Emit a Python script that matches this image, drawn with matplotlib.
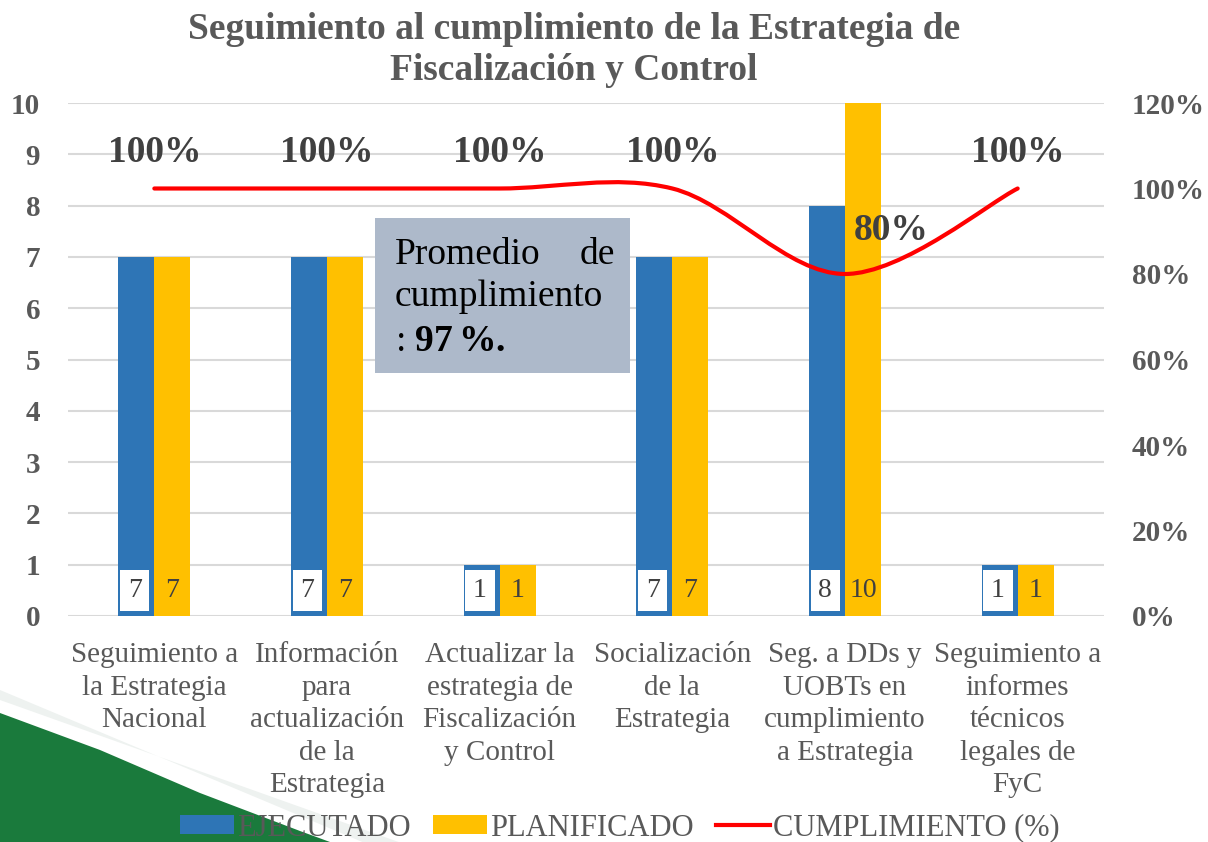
import numpy as np
import matplotlib
matplotlib.use("Agg")
import matplotlib.pyplot as plt
from matplotlib.path import Path
from matplotlib.patches import PathPatch, Patch, Polygon
from matplotlib.lines import Line2D

plt.rcParams["font.family"] = ["Liberation Serif", "DejaVu Serif"]
plt.rcParams["mathtext.fontset"] = "custom"
plt.rcParams["mathtext.rm"] = "Liberation Serif"
plt.rcParams["mathtext.bf"] = "Liberation Serif:bold"

# ── 数据 ──
categories = [
    "Seguimiento a\nla Estrategia\nNacional",
    "Información\npara\nactualización\nde la\nEstrategia",
    "Actualizar la\nestrategia de\nFiscalización\ny Control",
    "Socialización\nde la\nEstrategia",
    "Seg. a DDs y\nUOBTs en\ncumplimiento\na Estrategia",
    "Seguimiento a\ninformes\ntécnicos\nlegales de\nFyC",
]
ejecutado = [7, 7, 1, 7, 8, 1]
planificado = [7, 7, 1, 7, 10, 1]
cumplimiento = [100, 100, 100, 100, 80, 100]

TITLE = "Seguimiento al cumplimiento de la Estrategia de\nFiscalización y Control"
BLUE = "#2E75B6"
YELLOW = "#FFC000"
RED = "#FF0000"
GRAY = "#595959"
DARK = "#404040"
GRID = "#D9D9D9"

fig = plt.figure(figsize=(12.08, 8.42), dpi=100)

# 左下角绿色装饰
fig.patches.append(Polygon([[0, 1 - 690 / 842], [0.30, 0], [0.33, 0], [0, 1 - 700 / 842]],
                           closed=True, transform=fig.transFigure,
                           facecolor="#EEF2F0", edgecolor="none", zorder=0))
fig.patches.append(Polygon([[0, 1 - 713 / 842], [100 / 1208, 1 - 750 / 842],
                            [200 / 1208, 1 - 793 / 842], [300 / 1208, 1 - 831 / 842],
                            [330 / 1208, 0], [0, 0]],
                           closed=True, transform=fig.transFigure,
                           facecolor="#1A7A3C", edgecolor="none", zorder=0))

ax = fig.add_axes([68 / 1208, 1 - 616 / 842, 1036 / 1208, 513 / 842])
ax.patch.set_alpha(0)
ax2 = ax.twinx()

x = np.arange(len(categories))
w = 0.208
ax.bar(x - w / 2, ejecutado, w, color=BLUE, zorder=2)
ax.bar(x + w / 2, planificado, w, color=YELLOW, zorder=2)

for xi, e, p in zip(x, ejecutado, planificado):
    ax.text(xi - w / 2 - 0.01, 0.5, str(e), ha="center", va="center", fontsize=20, color=DARK,
            zorder=3, bbox=dict(boxstyle="square,pad=0.28", facecolor="white", edgecolor="none"))
    ax.text(xi + w / 2, 0.5, str(p), ha="center", va="center", fontsize=20, color=DARK, zorder=3)

ax.set_xlim(-0.5, len(categories) - 0.5)
ax.set_ylim(0, 10)
ax.set_yticks(range(0, 11))
ax.grid(axis="y", color=GRID, linewidth=1.5, zorder=0)
ax.set_axisbelow(True)
ax.set_xticks(x)
ax.set_xticklabels(categories, fontsize=21, color=GRAY, linespacing=1.32)
ax.tick_params(axis="x", length=0, pad=19)
ax.tick_params(axis="y", length=0, pad=20, labelsize=21, labelcolor=GRAY)
for lab in ax.get_yticklabels():
    lab.set_fontweight("bold")
for s in ax.spines.values():
    s.set_visible(False)

# 平滑折线 (Catmull-Rom -> Bezier)
pts = np.column_stack([x, cumplimiento]).astype(float)
verts = [pts[0]]
codes = [Path.MOVETO]
for i in range(len(pts) - 1):
    p0 = pts[i - 1] if i > 0 else pts[i]
    p3 = pts[i + 2] if i + 2 < len(pts) else pts[i + 1]
    c1 = pts[i] + (pts[i + 1] - p0) / 6
    c2 = pts[i + 1] - (p3 - pts[i]) / 6
    verts += [c1, c2, pts[i + 1]]
    codes += [Path.CURVE4] * 3
ax2.add_patch(PathPatch(Path(verts, codes), fill=False, edgecolor=RED, linewidth=3,
                        capstyle="round", zorder=4))
ax2.set_ylim(0, 120)
ax2.set_yticks(range(0, 121, 20))
ax2.set_yticklabels([f"{v}%" for v in range(0, 121, 20)])
ax2.tick_params(axis="y", length=0, pad=20, labelsize=21, labelcolor=GRAY)
for lab in ax2.get_yticklabels():
    lab.set_fontweight("bold")
for s in ax2.spines.values():
    s.set_visible(False)

for xi, c in zip(x, cumplimiento):
    if c == 100:
        ax2.annotate(f"{c}%", (xi, c), xytext=(0, 26), textcoords="offset points",
                     ha="center", va="center", fontsize=27, fontweight="bold", color=DARK, zorder=5)
    else:
        ax2.annotate(f"{c}%", (xi, c), xytext=(33, 31), textcoords="offset points",
                     ha="center", va="center", fontsize=27, fontweight="bold", color=DARK, zorder=5)

# 灰色说明框
fig.patches.append(Polygon([[375 / 1208, 1 - 218 / 842], [630 / 1208, 1 - 218 / 842],
                            [630 / 1208, 1 - 373 / 842], [375 / 1208, 1 - 373 / 842]],
                           closed=True, transform=fig.transFigure,
                           facecolor="#ADB9CA", edgecolor="none", zorder=5))
fig.text(395 / 1208, 1 - 255 / 842, "Promedio", fontsize=27, va="center", ha="left", zorder=6)
fig.text(615 / 1208, 1 - 255 / 842, "de", fontsize=27, va="center", ha="right", zorder=6)
fig.text(395 / 1208, 1 - 297 / 842, "cumplimiento", fontsize=27, va="center", ha="left", zorder=6)
fig.text(395 / 1208, 1 - 342 / 842, r": $\mathbf{97\,\%.}$", fontsize=27, va="center",
         ha="left", zorder=6)

fig.text(574 / 1208, 1 - 50 / 842, TITLE, fontsize=27, fontweight="bold", color=GRAY,
         ha="center", va="center", linespacing=1.2)

handles = [Patch(facecolor=BLUE), Patch(facecolor=YELLOW), Line2D([0], [0], color=RED, lw=3)]
fig.legend(handles, ["EJECUTADO", "PLANIFICADO", "CUMPLIMIENTO (%)"], loc="center",
           bbox_to_anchor=(620 / 1208, 1 - 828 / 842), ncol=3, frameon=False, fontsize=22,
           labelcolor=GRAY, handlelength=1.75, handleheight=0.6, handletextpad=0.1,
           columnspacing=0.75)

fig.savefig("out.png", dpi=100)
